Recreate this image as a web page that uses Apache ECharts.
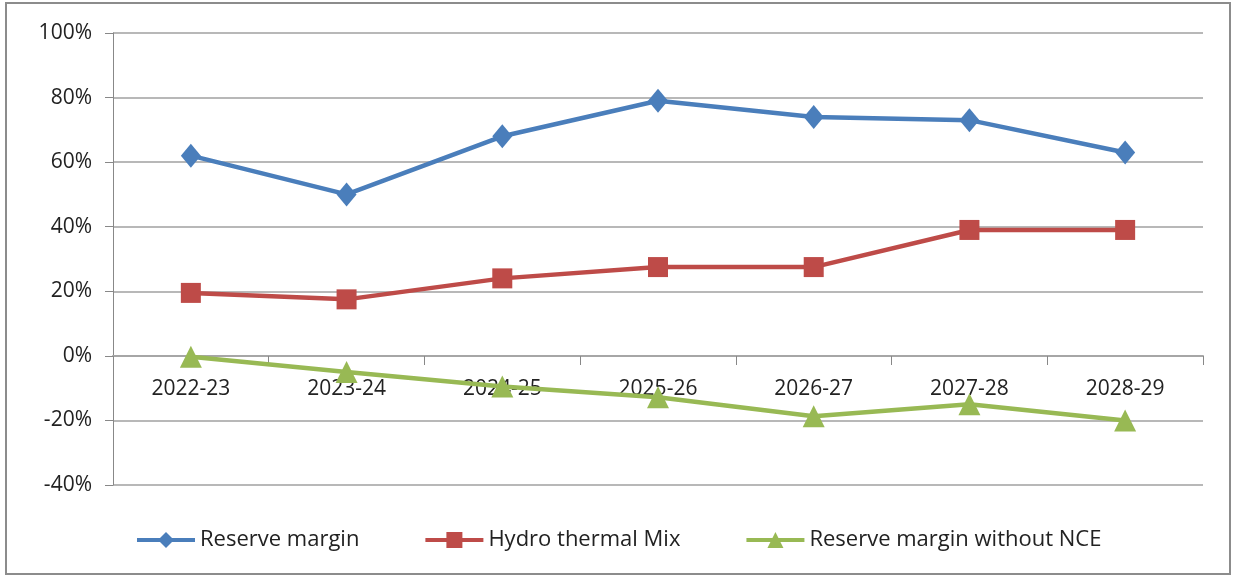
<!DOCTYPE html>
<html>
<head>
<meta charset="utf-8">
<script src="https://cdn.jsdelivr.net/npm/echarts@6/dist/echarts.min.js"></script>
<style>
  html, body { margin: 0; padding: 0; background: #fff; }
  #chart { width: 1238px; height: 577px; }
</style>
</head>
<body>
<div id="chart"></div>
<script>
// data (percent)
const years = ['2022-23', '2023-24', '2024-25', '2025-26', '2026-27', '2027-28', '2028-29'];
const reserveMargin = [62, 50, 68, 79, 74, 73, 63];
const hydroThermalMix = [19.5, 17.5, 24, 27.5, 27.5, 39, 39];
const reserveWithoutNCE = [-0.3, -5, -9.5, -12.8, -18.7, -15, -20];
const yTicks = { min: -40, max: 100, interval: 20 };

const font = '"Open Sans", Lato, sans-serif';

const makeLine = (name, data, color, symbol, size) => ({
  name: name,
  type: 'line',
  data: data,
  symbol: symbol,
  symbolSize: size,
  lineStyle: { width: 4.5, color: color },
  itemStyle: { color: color },
  z: 3
});

const chart = echarts.init(document.getElementById('chart'));
chart.setOption({
  animation: false,
  textStyle: { fontFamily: font },
  graphic: [{
    type: 'rect',
    shape: { x: 6, y: 3, width: 1224, height: 571 },
    style: { fill: 'none', stroke: '#8c8c8c', lineWidth: 2 },
    silent: true
  }],
  grid: { left: 113, right: 35, top: 33, bottom: 92 },
  legend: {
    top: 524,
    left: 130,
    itemWidth: 58,
    itemHeight: 20,
    itemGap: 64,
    lineStyle: { width: 4 },
    textStyle: { fontSize: 22, color: '#222', fontFamily: font },
    data: ['Reserve margin', 'Hydro thermal Mix', 'Reserve margin without NCE']
  },
  xAxis: {
    type: 'category',
    data: years,
    boundaryGap: true,
    offset: -129,
    axisLine: { onZero: false, lineStyle: { color: '#a6a6a6', width: 2 } },
    axisTick: { show: true, length: 9, inside: false, lineStyle: { color: '#888', width: 1 } },
    axisLabel: { fontSize: 21, color: '#222', margin: 23, fontFamily: font },
    splitLine: { show: false }
  },
  yAxis: {
    type: 'value',
    min: yTicks.min,
    max: yTicks.max,
    interval: yTicks.interval,
    axisLine: { show: true, lineStyle: { color: '#888', width: 1 } },
    axisTick: { show: true, length: 8, lineStyle: { color: '#888' } },
    axisLabel: { fontSize: 21, color: '#222', margin: 21, formatter: '{value}%', fontFamily: font },
    splitLine: { lineStyle: { color: '#b8b8b8', width: 2 } }
  },
  series: [
    makeLine('Reserve margin', reserveMargin, '#4a7ebb', 'diamond', [20, 24]),
    makeLine('Hydro thermal Mix', hydroThermalMix, '#be4b48', 'rect', 20),
    makeLine('Reserve margin without NCE', reserveWithoutNCE, '#98b954', 'triangle', 22)
  ]
});
</script>
</body>
</html>
